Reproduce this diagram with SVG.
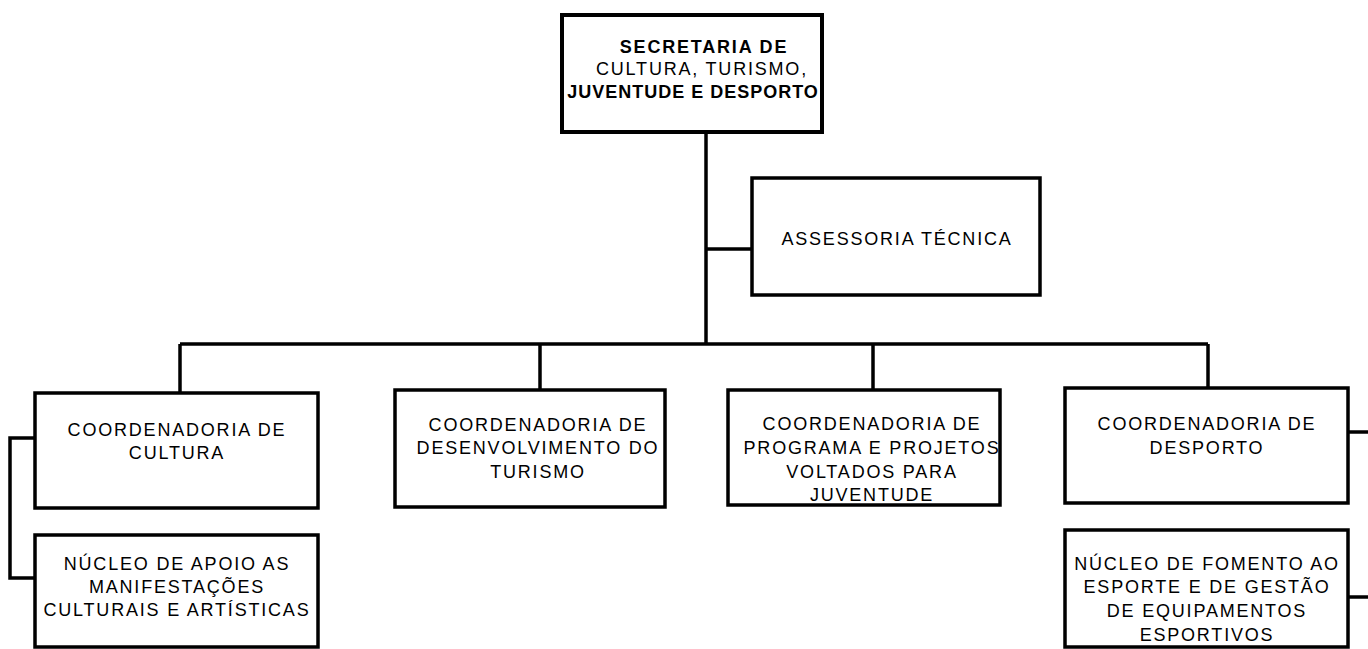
<svg xmlns="http://www.w3.org/2000/svg" width="1368" height="649" viewBox="0 0 1368 649">
<style>
.box{fill:#fff;stroke:#000;stroke-width:3.5}
.top{fill:#fff;stroke:#000;stroke-width:4}
.ln{fill:none;stroke:#000;stroke-width:3.5}
text{font-family:"Liberation Sans",Arial,sans-serif;font-size:18px;fill:#000;text-anchor:middle;letter-spacing:1.8px}
.b{font-weight:bold;letter-spacing:1px}
.b2{font-weight:bold;letter-spacing:1.8px}
</style>
<rect width="1368" height="649" fill="#fff"/>
<g id="connectors">
<path class="ln" d="M706,132 V344"/>
<path class="ln" d="M706,249 H752"/>
<path class="ln" d="M180,344 H1208"/>
<path class="ln" d="M180,344 V393"/>
<path class="ln" d="M540,344 V390"/>
<path class="ln" d="M873,344 V390"/>
<path class="ln" d="M1208,344 V388"/>
<path class="ln" d="M35,438 H10 V578 H35"/>
<path class="ln" d="M1348,432 H1368"/>
<path class="ln" d="M1348,597 H1368"/>
</g>
<g id="secretaria">
<rect class="top" x="562" y="15" width="260" height="117"/>
<text class="b2" x="704" y="53">SECRETARIA DE</text>
<text x="702" y="75">CULTURA, TURISMO,</text>
<text class="b" x="693" y="98">JUVENTUDE E DESPORTO</text>
</g>
<g id="assessoria">
<rect class="box" x="752" y="178" width="288" height="117"/>
<text x="897" y="245">ASSESSORIA TÉCNICA</text>
</g>
<g id="cultura">
<rect class="box" x="35" y="393" width="283" height="115"/>
<text x="177" y="436">COORDENADORIA DE</text>
<text x="177" y="459">CULTURA</text>
</g>
<g id="turismo">
<rect class="box" x="395" y="390" width="270" height="117"/>
<text x="538" y="431">COORDENADORIA DE</text>
<text x="538" y="454">DESENVOLVIMENTO DO</text>
<text x="538" y="478">TURISMO</text>
</g>
<g id="juventude">
<rect class="box" x="728" y="390" width="272" height="115"/>
<text x="872" y="430">COORDENADORIA DE</text>
<text x="872" y="454">PROGRAMA E PROJETOS</text>
<text x="872" y="478">VOLTADOS PARA</text>
<text x="872" y="501">JUVENTUDE</text>
</g>
<g id="desporto">
<rect class="box" x="1065" y="388" width="283" height="115"/>
<text x="1207" y="430">COORDENADORIA DE</text>
<text x="1207" y="454">DESPORTO</text>
</g>
<g id="nucleo-apoio">
<rect class="box" x="35" y="535" width="283" height="112"/>
<text x="177" y="570">NÚCLEO DE APOIO AS</text>
<text x="177" y="593">MANIFESTAÇÕES</text>
<text x="177" y="616">CULTURAIS E ARTÍSTICAS</text>
</g>
<g id="nucleo-fomento">
<rect class="box" x="1065" y="530" width="283" height="117"/>
<text x="1207" y="570">NÚCLEO DE FOMENTO AO</text>
<text x="1207" y="593">ESPORTE E DE GESTÃO</text>
<text x="1207" y="617">DE EQUIPAMENTOS</text>
<text x="1207" y="641">ESPORTIVOS</text>
</g>
</svg>
